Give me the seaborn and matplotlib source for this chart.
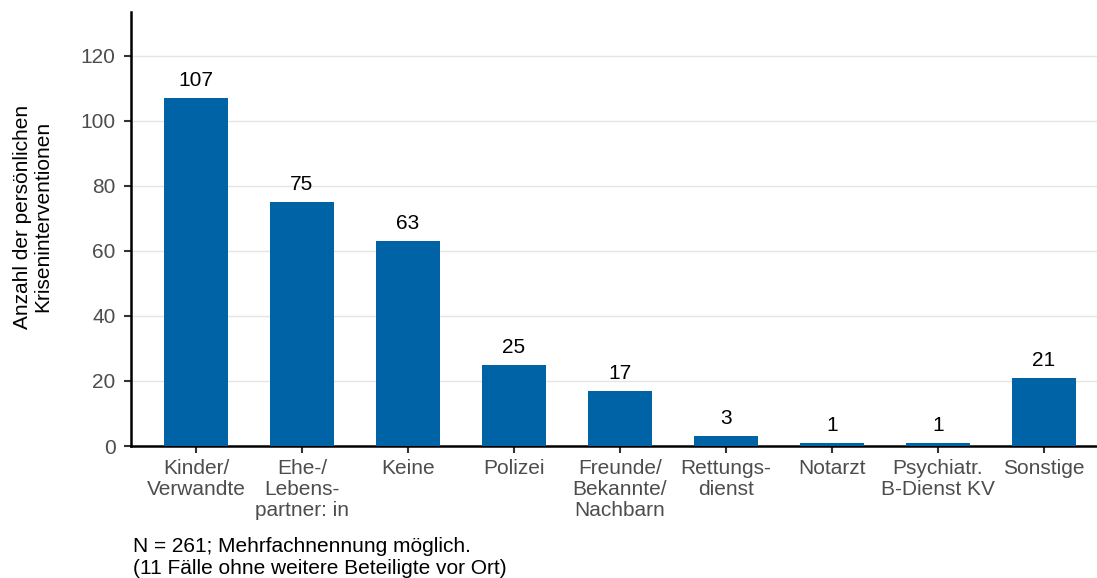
import matplotlib
matplotlib.use("Agg")
import matplotlib.pyplot as plt
import seaborn as sns
import pandas as pd

categories = ["Kinder/\nVerwandte", "Ehe-/\nLebens-\npartner: in", "Keine", "Polizei",
              "Freunde/\nBekannte/\nNachbarn", "Rettungs-\ndienst", "Notarzt",
              "Psychiatr.\nB-Dienst KV", "Sonstige"]
values = [107, 75, 63, 25, 17, 3, 1, 1, 21]
yticks = [0, 20, 40, 60, 80, 100, 120]

sns.set_theme(style="white")
plt.rcParams['font.family'] = ['Liberation Sans', 'DejaVu Sans']

df = pd.DataFrame({"cat": categories, "val": values})

fig = plt.figure(figsize=(10.97, 5.78), dpi=100)
ax = fig.add_axes([131/1097, 1-446/578, (1097-131)/1097, (446-12)/578])

sns.barplot(data=df, x="cat", y="val", color="#0063a6", width=0.6, ax=ax,
            saturation=1, zorder=3, linewidth=0)
ax.set_xlim(-0.613, 8.5)
ax.set_ylim(0, 133.5)
ax.set_yticks(yticks)
ax.yaxis.grid(True, color="#e5e5e5", linewidth=1, zorder=0)
ax.set_axisbelow(True)
for s in ["top", "right"]:
    ax.spines[s].set_visible(False)
for s in ["left", "bottom"]:
    ax.spines[s].set_color("black")
    ax.spines[s].set_linewidth(1.8)
ax.tick_params(axis="both", which="both", length=5, width=1.5, color="#333333",
               labelcolor="#4d4d4d", labelsize=15, direction="out")
ax.tick_params(axis="x", bottom=True, pad=4)
ax.tick_params(axis="y", left=True, pad=6)
for lab in ax.get_xticklabels():
    lab.set_linespacing(1.16)
ax.set_xlabel("")
ax.set_ylabel("Anzahl der persönlichen\nKriseninterventionen", fontsize=15,
              color="black", linespacing=1.05)
ax.yaxis.set_label_coords(-0.082, 0.528)

for i, v in enumerate(values):
    ax.text(i, v + 2.5, str(v), ha="center", va="bottom", fontsize=15, color="black")

fig.text(133/1097, 1-547/578, "N = 261; Mehrfachnennung möglich.", fontsize=15,
         color="black", va="center", ha="left")
fig.text(133/1097, 1-569/578, "(11 Fälle ohne weitere Beteiligte vor Ort)", fontsize=15,
         color="black", va="center", ha="left")

fig.savefig("out.png", dpi=100)
